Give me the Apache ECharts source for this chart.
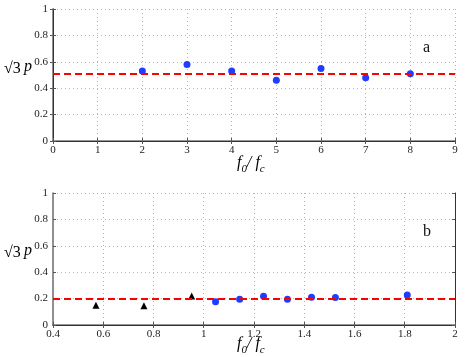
<!DOCTYPE html>
<html>
<head>
<meta charset="utf-8">
<script src="https://cdn.jsdelivr.net/npm/echarts@6/dist/echarts.min.js"></script>
<style>
  html, body { margin: 0; padding: 0; background: #fff; }
  #chart { width: 471px; height: 357px; }
</style>
</head>
<body>
<div id="chart"></div>
<script>
// panel a
var aX = [2, 3, 4, 5, 6, 7, 8]
var aY = [0.53, 0.58, 0.53, 0.46, 0.55, 0.48, 0.51]
var aLevel = 0.51
// panel b
var bCircX = [1.047, 1.143, 1.238, 1.333, 1.429, 1.524, 1.81]
var bCircY = [0.176, 0.196, 0.217, 0.196, 0.21, 0.209, 0.227]
var bTriX = [0.571, 0.762, 0.952]
var bTriY = [0.15, 0.146, 0.22]
var bLevel = 0.195

function pairs(xs, ys) {
  return xs.map(function (x, i) { return [x, ys[i]] })
}

var serif = 'Liberation Serif'
var grey = { show: true, lineStyle: { color: '#777', width: 1.6 } }
var dark = { show: true, lineStyle: { color: '#333', width: 1 } }
var dots = { lineStyle: { type: [1, 3], color: '#b5b5b5', width: 1 } }

function xAx(idx, min, max, step, show) {
  return {
    type: 'value', gridIndex: idx, min: min, max: max, interval: step,
    position: show ? 'bottom' : 'top',
    axisLine: show ? grey : dark,
    axisTick: { show: true, inside: true, length: 3, lineStyle: { color: '#555' } },
    axisLabel: { show: show, color: '#222', fontFamily: serif, fontSize: 11, margin: 4 },
    splitLine: Object.assign({ show: show }, dots)
  }
}
function yAx(idx, show) {
  return {
    type: 'value', gridIndex: idx, min: 0, max: 1, interval: 0.2,
    position: show ? 'left' : 'right',
    axisLine: show ? grey : dark,
    axisTick: { show: true, inside: true, length: 3, lineStyle: { color: '#555' } },
    axisLabel: {
      show: show, color: '#222', fontFamily: serif, fontSize: 11, margin: 5,
      formatter: function (v) { return String(Math.round(v * 10) / 10) }
    },
    splitLine: Object.assign({ show: show }, dots)
  }
}

function level(y) {
  return {
    silent: true, symbol: 'none', label: { show: false },
    lineStyle: { color: '#f00', type: [7, 4], width: 2, opacity: 1 },
    data: [{ yAxis: y }]
  }
}

var titleRich = {
  i: { fontFamily: serif, fontStyle: 'italic', fontSize: 16, color: '#111', lineHeight: 20, verticalAlign: 'top' },
  s: { fontFamily: serif, fontStyle: 'italic', fontSize: 11, color: '#111', lineHeight: 20, verticalAlign: 'bottom' },
  r: { fontFamily: serif, fontSize: 16, color: '#111' }
}
function xTitle(y) {
  return {
    type: 'text', left: 237, top: y,
    style: { text: '{i|f}{s|0}{i|/ f}{s|c}', rich: titleRich }
  }
}
function yTitle(y) {
  return {
    type: 'text', left: 4, top: y,
    style: { text: '{r|√3} {i|p}', rich: titleRich }
  }
}

var chart = echarts.init(document.getElementById('chart'))
chart.setOption({
  animation: false,
  grid: [
    { left: 53, top: 9, width: 402, height: 132 },
    { left: 53, top: 193, width: 402, height: 132 }
  ],
  xAxis: [
    xAx(0, 0, 9, 1, true), xAx(0, 0, 9, 1, false),
    xAx(1, 0.4, 2, 0.2, true), xAx(1, 0.4, 2, 0.2, false)
  ],
  yAxis: [yAx(0, true), yAx(0, false), yAx(1, true), yAx(1, false)],
  series: [
    {
      type: 'scatter', xAxisIndex: 0, yAxisIndex: 0, data: pairs(aX, aY),
      symbol: 'circle', symbolSize: 7, itemStyle: { color: '#1f3dff', opacity: 1 },
      markLine: level(aLevel), z: 3
    },
    {
      type: 'scatter', xAxisIndex: 2, yAxisIndex: 2, data: pairs(bCircX, bCircY),
      symbol: 'circle', symbolSize: 7, itemStyle: { color: '#1f3dff', opacity: 1 },
      markLine: level(bLevel), z: 3
    },
    {
      type: 'scatter', xAxisIndex: 2, yAxisIndex: 2, data: pairs(bTriX, bTriY),
      symbol: 'triangle', symbolSize: 7, itemStyle: { color: '#000', opacity: 1 }, z: 3
    }
  ],
  graphic: [
    xTitle(155), xTitle(336),
    yTitle(59), yTitle(243),
    { type: 'text', left: 423, top: 40, style: { text: 'a', font: '16px ' + serif, fill: '#111' } },
    { type: 'text', left: 423, top: 224, style: { text: 'b', font: '16px ' + serif, fill: '#111' } }
  ]
})
</script>
</body>
</html>
